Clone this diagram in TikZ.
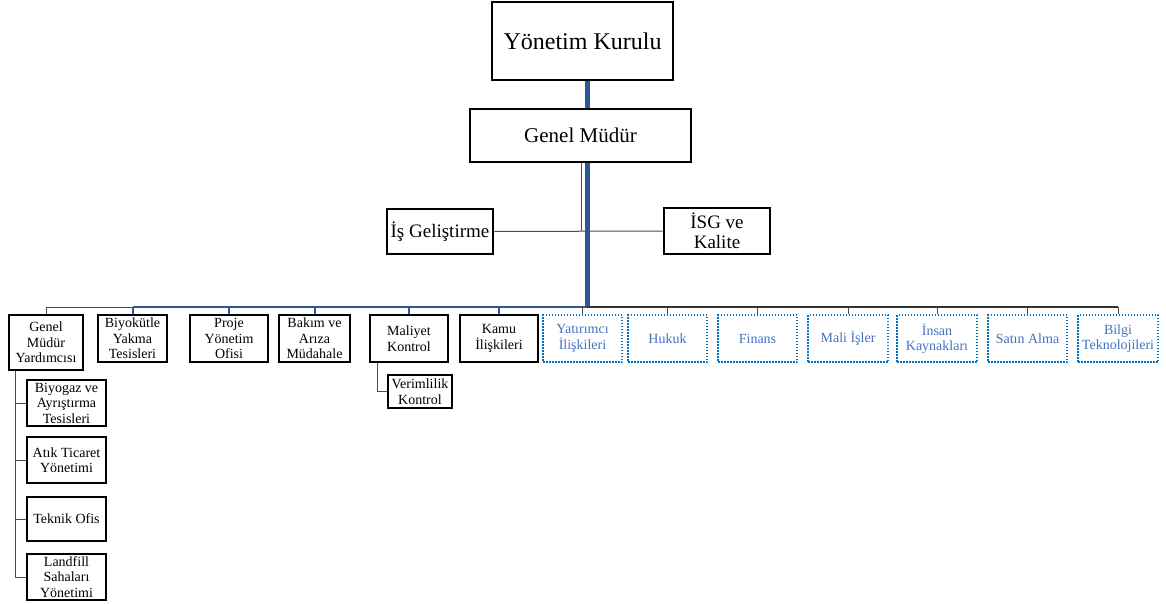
\documentclass[tikz,border=0pt]{standalone}
\usepackage{fontspec}
\setmainfont{Liberation Serif}
\usepackage{tikz}
\usetikzlibrary{positioning}
\definecolor{spineblue}{RGB}{47,85,151}
\definecolor{dotblue}{RGB}{0,112,192}
\definecolor{unitblue}{RGB}{68,114,196}
\tikzstyle{every unit} = [draw, fill=white, line width=2.9pt, inner sep=0pt, align=center]
\tikzstyle{unit} = [rectangle, every unit, font=\fontsize{14}{15.5}\selectfont]
\tikzstyle{staffunit} = [unit, draw=dotblue, text=unitblue, line width=2.2pt, dash pattern=on 1.5pt off 1.5pt]
\tikzstyle{mainline} = [draw=spineblue, line width=5pt]
\tikzstyle{busline} = [draw=spineblue, line width=2pt]
\tikzstyle{thinline} = [draw=black!70, line width=1pt]
\tikzstyle{blackline} = [draw=black!80, line width=1.8pt]

\begin{document}
\begin{tikzpicture}[x=1pt, y=-1pt]
                    \useasboundingbox (0,0) rectangle (1166,604);
                    % top of the chart
                    \node[unit, minimum width=181pt, minimum height=78pt, font=\fontsize{24}{26}\selectfont] (kurul) at (582.5,41) {Yönetim Kurulu};
                    \node[unit, minimum width=221pt, minimum height=53pt, font=\fontsize{21}{23}\selectfont] (gm) at (580.5,135.5) {Genel Müdür};
                    \node[unit, minimum width=106pt, minimum height=45pt, font=\fontsize{19}{20}\selectfont] (isgel) at (440,231.5) {İş Geliştirme};
                    \node[unit, minimum width=106pt, minimum height=46pt, font=\fontsize{19}{20}\selectfont] (isg) at (717,231) {İSG ve\\Kalite};
                    \coordinate (spine) at (587,307);
                    \coordinate (gmleg) at (581,231);

                    % first row of units
                    \tikzstyle{every unit} += [minimum height=47pt]
                    \node[unit, minimum width=74pt, minimum height=55pt] (gmy) at (46,342.5) {Genel\\Müdür\\Yardımcısı};
                    \node[unit, minimum width=69pt] (biyokutle) at (132.5,338.5) {Biyokütle\\Yakma\\Tesisleri};
                    \node[unit, minimum width=78pt] (proje) at (229,338.5) {Proje\\Yönetim\\Ofisi};
                    \node[unit, minimum width=71pt] (bakim) at (314.5,338.5) {Bakım ve\\Arıza\\Müdahale};
                    \node[unit, minimum width=78pt] (maliyet) at (409,338.5) {Maliyet\\Kontrol};
                    \node[unit, minimum width=78pt] (kamu) at (499,338.5) {Kamu\\İlişkileri};
                    \node[staffunit, minimum width=79pt] (yatirimci) at (582.5,338.5) {Yatırımcı\\İlişkileri};
                    \node[staffunit, minimum width=79pt] (hukuk) at (667.5,338.5) {Hukuk};
                    \node[staffunit, minimum width=79pt] (finans) at (757.5,338.5) {Finans};
                    \node[staffunit, minimum width=80pt] (mali) at (848,338.5) {Mali İşler};
                    \node[staffunit, minimum width=80pt] (insan) at (937,338.5) {İnsan\\Kaynakları};
                    \node[staffunit, minimum width=79pt] (satin) at (1027.5,338.5) {Satın Alma};
                    \node[staffunit, minimum width=80pt] (bilgi) at (1118,338.5) {Bilgi\\Teknolojileri};

                    % under the deputy and cost control
                    \node[unit, minimum width=79pt, minimum height=46pt] (biyogaz) at (66.5,403) {Biyogaz ve\\Ayrıştırma\\Tesisleri};
                    \node[unit, minimum width=79pt, minimum height=46pt] (atik) at (66.5,460) {Atık Ticaret\\Yönetimi};
                    \node[unit, minimum width=79pt, minimum height=44pt] (teknik) at (66.5,519) {Teknik Ofis};
                    \node[unit, minimum width=79pt, minimum height=46pt] (landfill) at (66.5,577) {Landfill\\Sahaları\\Yönetimi};
                    \node[unit, minimum width=64pt, minimum height=33pt] (verim) at (420,391.5) {Verimlilik\\Kontrol};
                    \coordinate (gmyleg) at ([xshift=8pt]gmy.south west);
                    \coordinate (maliyetleg) at ([xshift=9pt]maliyet.south west);

                    % connectors
                    \draw[thinline] (gm.south -| gmleg) -- (gmleg);
                    \draw[thinline] (isgel.east) -- (isg.west);
                    \draw[mainline] (kurul.south -| spine) -- (gm.north -| spine);
                    \draw[mainline] (gm.south -| spine) -- ([yshift=1pt]spine);
                    \draw[thinline] (gmy.north) -- (gmy.north |- spine) -- (biyokutle.north |- spine);
                    \draw[busline] (biyokutle.north |- spine) -- (spine);
                    \draw[blackline] (spine) -- (bilgi.north |- spine);
                    \draw[busline] (biyokutle.north |- spine) -- (biyokutle.north);
                    \draw[busline] (proje.north |- spine) -- (proje.north);
                    \draw[busline] (bakim.north |- spine) -- (bakim.north);
                    \draw[busline] (maliyet.north |- spine) -- (maliyet.north);
                    \draw[busline] (kamu.north |- spine) -- (kamu.north);
                    \draw[thinline] (yatirimci.north |- spine) -- (yatirimci.north);
                    \draw[thinline] (hukuk.north |- spine) -- (hukuk.north);
                    \draw[thinline] (finans.north |- spine) -- (finans.north);
                    \draw[thinline] (mali.north |- spine) -- (mali.north);
                    \draw[thinline] (insan.north |- spine) -- (insan.north);
                    \draw[thinline] (satin.north |- spine) -- (satin.north);
                    \draw[thinline] (bilgi.north |- spine) -- (bilgi.north);
                    \draw[thinline] (gmyleg) |- (landfill.west);
                    \draw[thinline] (gmyleg |- biyogaz.west) -- (biyogaz.west);
                    \draw[thinline] (gmyleg |- atik.west) -- (atik.west);
                    \draw[thinline] (gmyleg |- teknik.west) -- (teknik.west);
                    \draw[thinline] (maliyetleg) |- (verim.west);
                \end{tikzpicture}
\end{document}
